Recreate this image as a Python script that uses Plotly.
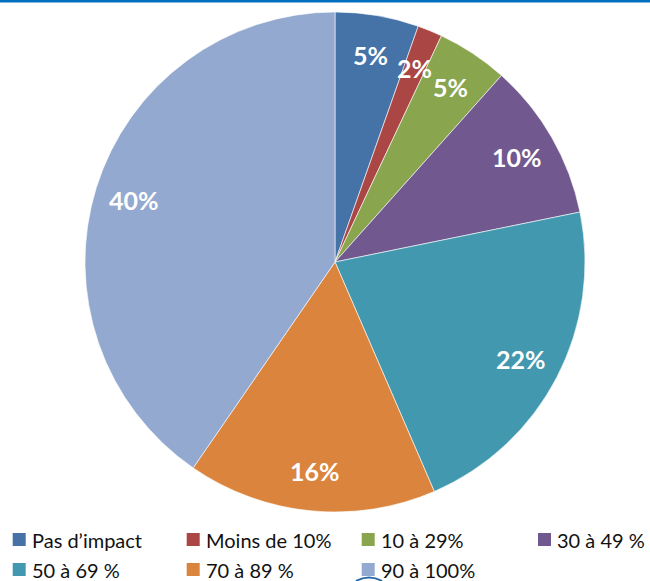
import math
import plotly.graph_objects as go

# share of respondents per impact class
categories = ["Pas d’impact", "Moins de 10%", "10 à 29%", "30 à 49 %",
              "50 à 69 %", "70 à 89 %", "90 à 100%"]
values = [5.4, 1.6, 4.6, 10.2, 21.7, 16.1, 40.4]
colors = ["#4572a7", "#aa4643", "#89a54e", "#71588f",
          "#4198af", "#db843d", "#93a9cf"]

W, H = 650, 581
L, R, T, B = 85, 65, 12, 69
PW, PH = W - L - R, H - T - B

def px_x(x):
    return (x - L) / PW

def px_y(y):
    return (H - B - y) / PH

fig = go.Figure(go.Pie(
    labels=categories,
    values=values,
    sort=False,
    direction="clockwise",
    rotation=0,
    marker=dict(colors=colors, line=dict(color="white", width=0.6)),
    textinfo="none",
    hoverinfo="label+percent",
    showlegend=False,
))

annotations = []
shapes = []

# percentage labels, placed along each slice's mid angle
total = sum(values)
cum = 0
for v in values:
    mid = (cum + v / 2) / total * 2 * math.pi
    cum += v
    f = 0.84
    annotations.append(dict(
        x=0.5 + 0.5 * f * math.sin(mid), y=0.5 + 0.5 * f * math.cos(mid),
        xref="paper", yref="paper", showarrow=False,
        xanchor="center", yanchor="middle",
        text=f"{round(v / total * 100)}%",
        font=dict(family="Lato", size=25, color="white", weight="bold"),
    ))

# legend: 4 entries on the first row, 3 on the second
col_x = [12.7, 186.7, 361.7, 538]
row_y = [539.5, 569.5]
for i, (cat, col) in enumerate(zip(categories, colors)):
    sx = col_x[i % 4]
    sy = row_y[i // 4]
    shapes.append(dict(type="rect", xref="paper", yref="paper",
                       x0=px_x(sx), x1=px_x(sx + 13),
                       y0=px_y(sy - 6.5), y1=px_y(sy + 6.5),
                       fillcolor=col, line=dict(width=0)))
    annotations.append(dict(
        x=px_x(sx + 17), y=px_y(sy), xref="paper", yref="paper",
        showarrow=False, xanchor="left", yanchor="middle",
        text=cat, font=dict(family="Lato", size=20, color="#111111"),
    ))

# thin blue rule along the top edge
shapes.append(dict(type="line", xref="paper", yref="paper",
                   x0=px_x(0), x1=px_x(W), y0=px_y(1.2), y1=px_y(1.2),
                   line=dict(color="#0070c0", width=2.4)))
# small arc cut off at the bottom edge
shapes.append(dict(type="path", xref="paper", yref="paper",
                   path=f"M {px_x(356)},{px_y(581)} Q {px_x(369)},{px_y(574)} {px_x(382)},{px_y(581)}",
                   line=dict(color="#2a6aa8", width=2)))

fig.update_layout(
    width=W, height=H,
    margin=dict(l=L, r=R, t=T, b=B),
    paper_bgcolor="white",
    plot_bgcolor="white",
    annotations=annotations,
    shapes=shapes,
)

# the page body has a default 8px margin; drop it so the figure sits at 0,0
fig.write_html("out.html", config={"displayModeBar": False},
               post_script="document.body.style.margin='0';document.body.style.overflow='hidden';")
